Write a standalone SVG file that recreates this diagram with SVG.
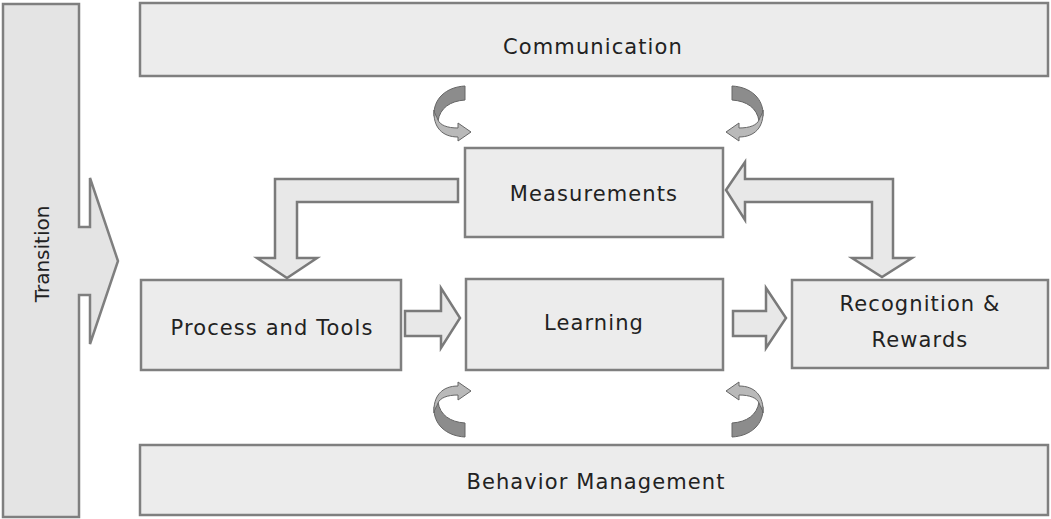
<svg xmlns="http://www.w3.org/2000/svg" width="1051" height="519" viewBox="0 0 1051 519">
<style>
.box{fill:#ececec;stroke:#7f7f7f;stroke-width:2.5}
.blk{fill:#e8e8e8;stroke:#7a7a7a;stroke-width:2.5;stroke-linejoin:miter}
.lbl{font-family:"DejaVu Sans",sans-serif;font-size:21px;fill:#222;text-anchor:middle;letter-spacing:1.1px}
.dk{fill:#8c8c8c;stroke:#666;stroke-width:1}
.lt{fill:#b9b9b9;stroke:#666;stroke-width:1}
</style>
<defs>
<g id="curl">
<path class="dk" d="M465,86 L465,100 C450,101 440,108 438,121 L434,116 C433,99 446,87 465,86 Z"/>
<path class="lt" d="M434,110 C434,113 437,117 438,120 C440,125 447,128 458,128 L458,123 L471,132 L458,141 L458,137 C442,137 433,127 434,110 Z"/>
</g>
</defs>
<g id="transition">
<path class="box" d="M3,4 L79,4 L79,227 L90,227 L90,178 L118,261 L90,344 L90,295 L79,295 L79,517 L3,517 Z" style="fill:#e4e4e4"/>
<text class="lbl" transform="translate(49,254) rotate(-90)" style="font-size:20px;letter-spacing:0">Transition</text>
</g>
<g id="communication">
<rect class="box" x="140" y="3" width="908" height="73"/>
<text class="lbl" x="593" y="54">Communication</text>
</g>
<g id="measurements">
<rect class="box" x="465" y="148" width="258" height="89"/>
<text class="lbl" x="594" y="201">Measurements</text>
</g>
<g id="process">
<rect class="box" x="141" y="280" width="260" height="90"/>
<text class="lbl" x="272" y="335">Process and Tools</text>
</g>
<g id="learning">
<rect class="box" x="466" y="279" width="257" height="91"/>
<text class="lbl" x="594" y="330">Learning</text>
</g>
<g id="recognition">
<rect class="box" x="792" y="280" width="256" height="88"/>
<text class="lbl" x="920" y="311">Recognition  &amp;</text>
<text class="lbl" x="920" y="347">Rewards</text>
</g>
<g id="behavior">
<rect class="box" x="140" y="445" width="908" height="70"/>
<text class="lbl" x="596" y="489">Behavior Management</text>
</g>
<g id="connectors">
<path class="blk" d="M458,179 L275,179 L275,258 L257,258 L287,278 L317,258 L297,258 L297,202 L458,202 Z"/>
<path class="blk" d="M726,190 L745,162 L745,179 L893,179 L893,258 L912,258 L882,277 L852,258 L872,258 L872,202 L745,202 L745,220 Z"/>
<path class="blk" d="M405,311 L441,311 L441,288 L460,318 L441,348 L441,336 L405,336 Z"/>
<path class="blk" d="M733,311 L766,311 L766,288 L786,318 L766,348 L766,336 L733,336 Z"/>
<use href="#curl"/>
<use href="#curl" transform="matrix(-1,0,0,1,1197,0)"/>
<use href="#curl" transform="matrix(1,0,0,-1,0,523)"/>
<use href="#curl" transform="matrix(-1,0,0,-1,1197,523)"/>
</g>
</svg>
